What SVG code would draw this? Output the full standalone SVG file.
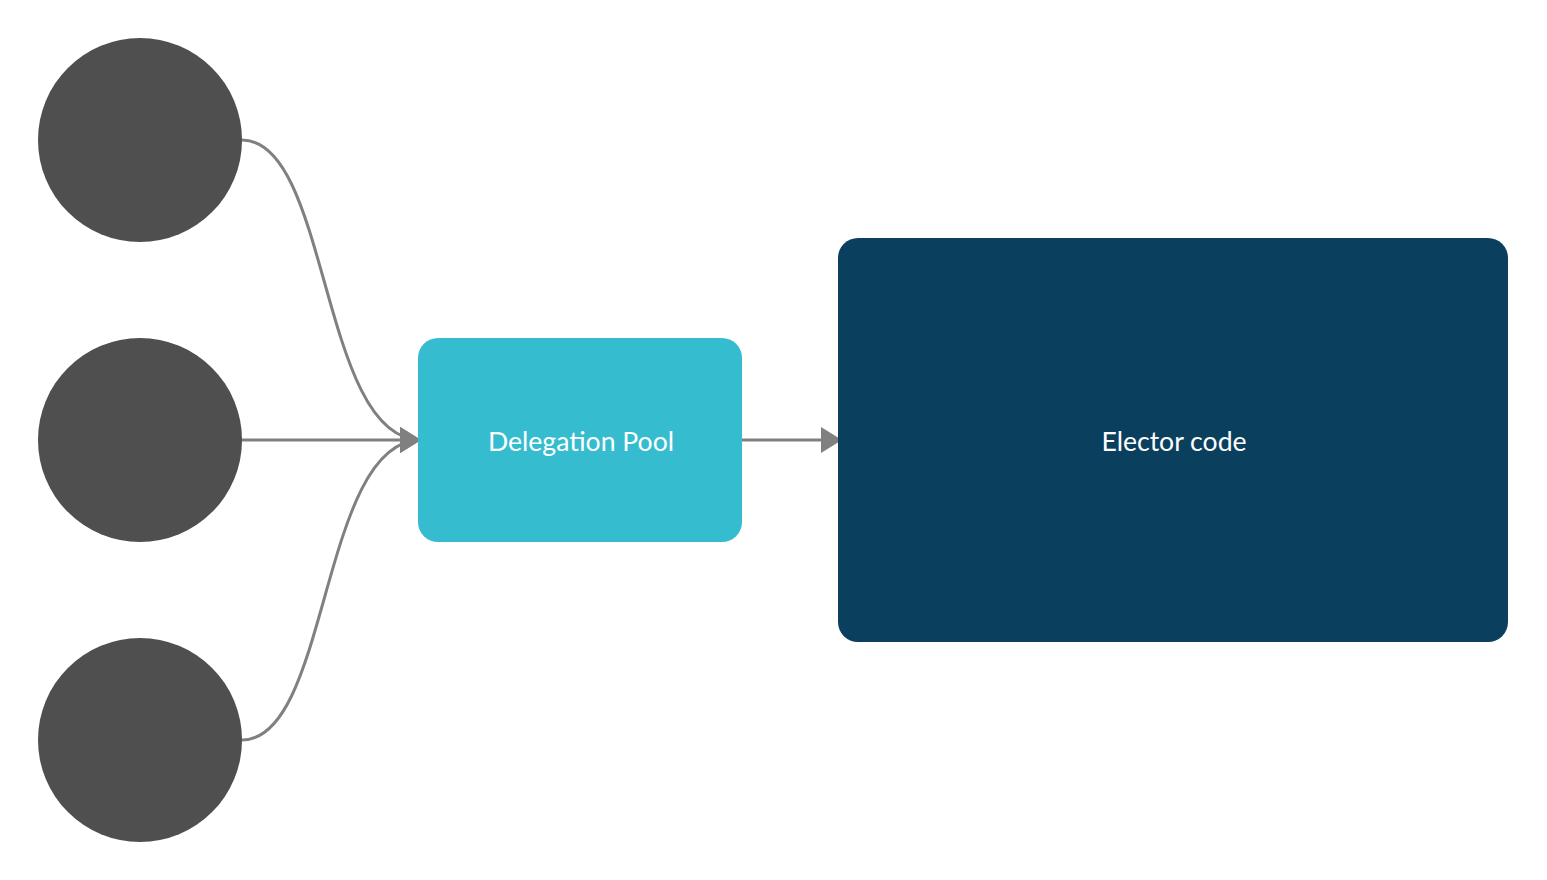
<svg xmlns="http://www.w3.org/2000/svg" width="1547" height="880" viewBox="0 0 1547 880">
<defs>
<style>
.src{fill:#4f4f4f}
.lbl{font-family:Lato,"Liberation Sans",sans-serif;font-size:26.6px;fill:#ffffff;text-anchor:middle;dominant-baseline:central}
.edge{fill:none;stroke:#808080;stroke-width:3}
</style>
<marker id="arr" markerUnits="userSpaceOnUse" markerWidth="24" markerHeight="28" refX="21" refY="13" orient="auto">
<path d="M0,0 L21,13 L0,26 Z" fill="#808080"/>
</marker>
</defs>
<rect width="1547" height="880" fill="#ffffff"/>
<g id="connectors">
<path class="edge" d="M242,140 C330,140 320,440 421,440" marker-end="url(#arr)"/>
<path class="edge" d="M240,440 L421,440" marker-end="url(#arr)"/>
<path class="edge" d="M242,740 C330,740 320,440 421,440" marker-end="url(#arr)"/>
<path class="edge" d="M740,440 L842,440" marker-end="url(#arr)"/>
</g>
<g id="source1"><circle class="src" cx="140" cy="140" r="102"/></g>
<g id="source2"><circle class="src" cx="140" cy="440" r="102"/></g>
<g id="source3"><circle class="src" cx="140" cy="740" r="102"/></g>
<g id="delegation-pool">
<rect x="418" y="338" width="324" height="204" rx="20" fill="#35bdcf"/>
<text class="lbl" x="581" y="441">Delegation Pool</text>
</g>
<g id="elector-code">
<rect x="838" y="238" width="670" height="404" rx="20" fill="#0a405e"/>
<text class="lbl" x="1174" y="441">Elector code</text>
</g>
</svg>
